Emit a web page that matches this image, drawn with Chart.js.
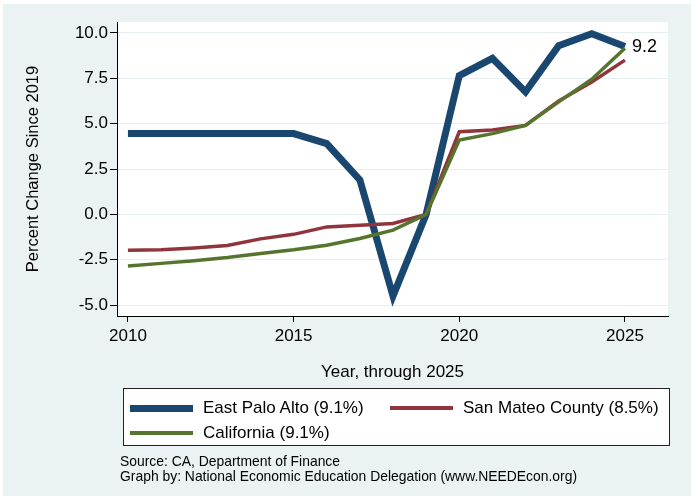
<!DOCTYPE html>
<html lang="en">
<head>
	<meta charset="UTF-8">
	<title>East Palo Alto population change</title>
	<script src="https://cdn.jsdelivr.net/npm/chart.js"></script>
	<style>
		body { margin: 0; background: #ffffff; font-family: "Liberation Sans", Arial, Helvetica, sans-serif; }
		#frame { position: absolute; left: 3px; top: 4px; width: 688px; height: 492px; background: #eaf2f4; }
		#wrap { position: absolute; left: 0; top: 0; width: 694px; height: 499px; }
		#legend { position: absolute; left: 123px; top: 388px; width: 545px; height: 56px; background: #fff; border: 1px solid #222; }
		.item { position: absolute; font-size: 17px; color: #000; white-space: nowrap; }
		.swatch { position: absolute; }
		#notes { position: absolute; left: 120px; top: 454px; font-size: 13.9px; line-height: 15px; color: #000; }
	</style>
</head>
<body>
	<div id="frame"></div>
	<div id="wrap">
		<canvas id="myChart" width="694" height="499"></canvas>
	</div>
	<div id="legend"></div>
	<div id="notes">Source: CA, Department of Finance<br>Graph by: National Economic Education Delegation (www.NEEDEcon.org)</div>

	<script>
		// values, percent change since 2019
		const years = [2010, 2011, 2012, 2013, 2014, 2015, 2016, 2017, 2018, 2019, 2020, 2021, 2022, 2023, 2024, 2025];
		const eastPaloAlto = [4.45, 4.45, 4.45, 4.45, 4.45, 4.45, 3.9, 1.9, -4.5, 0, 7.65, 8.6, 6.75, 9.3, 9.95, 9.25];
		const sanMateo = [-1.98, -1.95, -1.85, -1.72, -1.35, -1.1, -0.69, -0.6, -0.5, 0, 4.55, 4.65, 4.9, 6.25, 7.3, 8.5];
		const california = [-2.85, -2.7, -2.55, -2.38, -2.15, -1.95, -1.7, -1.33, -0.87, 0, 4.1, 4.45, 4.9, 6.2, 7.45, 9.15];

		const seriesNames = ['East Palo Alto (9.1%)', 'San Mateo County (8.5%)', 'California (9.1%)'];
		const seriesColors = ['#1a476f', '#90353b', '#55752f'];
		const seriesWidths = [7, 3.5, 3.5];

		const xTicks = [2010, 2015, 2020, 2025];
		const yTicks = [-5, -2.5, 0, 2.5, 5, 7.5, 10];
		const endLabel = '9.2';

		const font = '"Liberation Sans", Arial, Helvetica, sans-serif';

		function toPoints(vals) {
			return years.map((yr, i) => ({x: yr, y: vals[i]}));
		}

		const allSeries = [eastPaloAlto, sanMateo, california];
		const datasets = allSeries.map((vals, i) => ({
			label: seriesNames[i],
			data: toPoints(vals),
			borderColor: seriesColors[i],
			backgroundColor: seriesColors[i],
			borderWidth: seriesWidths[i],
			pointRadius: 0,
			tension: 0,
			order: 2 - i
		}));

		// white plot area + the "9.2" label at the last East Palo Alto point
		const plotBits = {
			id: 'plotBits',
			beforeDraw(chart) {
				const a = chart.chartArea;
				chart.ctx.save();
				chart.ctx.fillStyle = '#ffffff';
				chart.ctx.fillRect(a.left, a.top, a.right - a.left, a.bottom - a.top);
				chart.ctx.restore();
			},
			afterDatasetsDraw(chart) {
				const ctx = chart.ctx;
				const last = years.length - 1;
				const px = chart.scales.x.getPixelForValue(years[last]);
				const py = chart.scales.y.getPixelForValue(eastPaloAlto[last]);
				ctx.save();
				ctx.font = '18px ' + font;
				ctx.fillStyle = '#000';
				ctx.textBaseline = 'middle';
				ctx.fillText(endLabel, px + 7, py + 1);
				ctx.restore();
			}
		};

		const myChart = document.getElementById('myChart');

		new Chart(myChart, {
			type: 'line',
			data: { datasets: datasets },
			options: {
				responsive: false,
				animation: false,
				events: [],
				layout: { padding: { left: 0, top: 22, right: 26, bottom: 0 } },
				plugins: {
					legend: { display: false },
					tooltip: { enabled: false }
				},
				scales: {
					x: {
						type: 'linear',
						min: 2009.67,
						max: 2026.3,
						afterBuildTicks: (s) => { s.ticks = xTicks.map(v => ({value: v})); },
						afterFit: (s) => { s.height = 499 - 316; },
						grid: { drawOnChartArea: false, tickColor: '#000', tickLength: 6 },
						border: { color: '#000', width: 1 },
						ticks: { color: '#000', font: { family: font, size: 17 }, padding: 4, maxRotation: 0, callback: (v) => String(v) },
						title: { display: true, text: 'Year, through 2025', color: '#000', font: { family: font, size: 17 }, padding: { bottom: 116 } }
					},
					y: {
						min: -5.6,
						max: 10.6,
						afterBuildTicks: (s) => { s.ticks = yTicks.map(v => ({value: v})); },
						afterFit: (s) => { s.width = 117; },
						grid: { color: '#e6eef1', lineWidth: 1, tickColor: '#000', tickLength: 7 },
						border: { color: '#000', width: 1 },
						ticks: { color: '#000', font: { family: font, size: 17 }, padding: 2, callback: (v) => v.toFixed(1) },
						title: { display: true, text: 'Percent Change Since 2019', color: '#000', font: { family: font, size: 16.5 }, padding: { top: 24 } }
					}
				}
			},
			plugins: [plotBits]
		});

		// legend box, two columns like the original
		const legendPos = [
			{ left: 6, top: 9 },
			{ left: 266, top: 9 },
			{ left: 6, top: 34 }
		];
		const legend = document.getElementById('legend');
		seriesNames.forEach((name, i) => {
			const p = legendPos[i];
			const sw = document.createElement('div');
			sw.className = 'swatch';
			sw.style.left = p.left + 'px';
			sw.style.width = '63px';
			sw.style.height = seriesWidths[i] + 'px';
			sw.style.top = (p.top + 10 - seriesWidths[i] / 2) + 'px';
			sw.style.background = seriesColors[i];
			legend.appendChild(sw);
			const tx = document.createElement('div');
			tx.className = 'item';
			tx.style.left = (p.left + 73) + 'px';
			tx.style.top = p.top + 'px';
			tx.textContent = name;
			legend.appendChild(tx);
		});
	</script>
</body>
</html>
